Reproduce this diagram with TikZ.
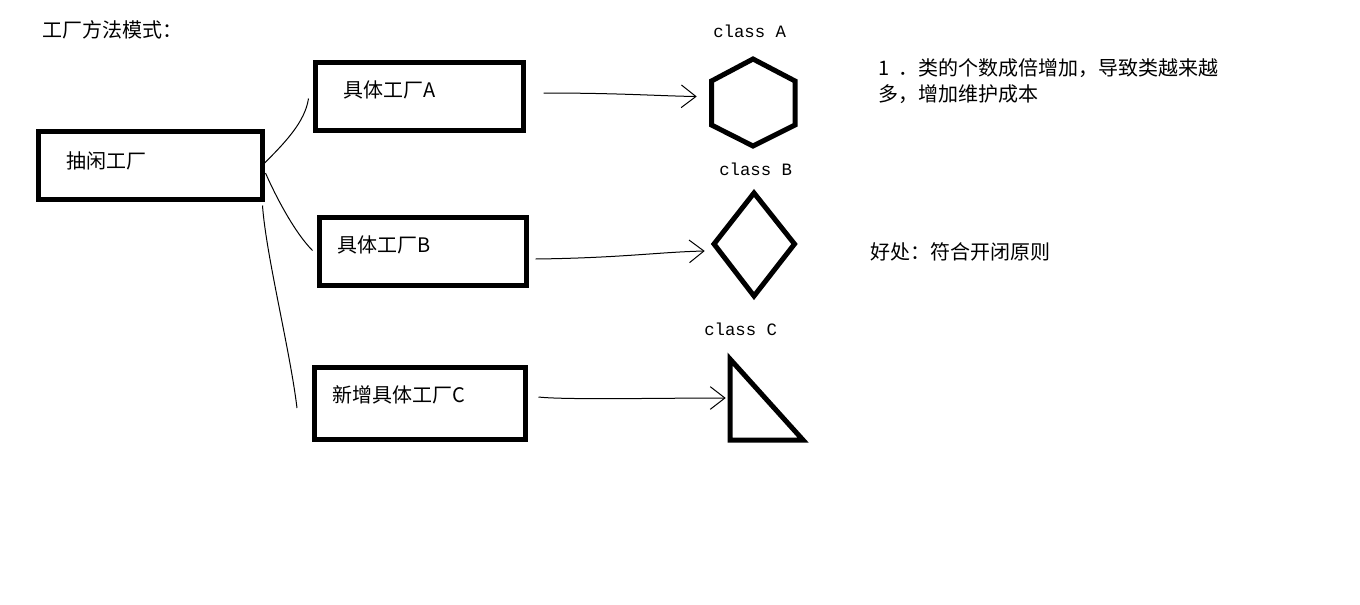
\documentclass[tikz,border=0pt]{standalone}
\usepackage{fontspec}
\newfontfamily\cjkf{Noto Sans CJK SC}
\newfontfamily\monof{Liberation Mono}
\usetikzlibrary{arrows.meta,calc}
\begin{document}
\begin{tikzpicture}[x=0.75pt,y=-0.75pt,
  txt/.style={inner sep=0pt,anchor=base west,font=\cjkf\fontsize{15pt}{18pt}\selectfont},
  cls/.style={inner sep=0pt,anchor=base west,font=\monof\fontsize{13pt}{15pt}\selectfont},
  box/.style={draw=black,line width=3.75pt,rectangle,inner sep=0pt},
  shp/.style={draw=black,line width=3.75pt,line join=miter},
  hole/.style={inner sep=0pt},
  wire/.style={draw=black,line width=0.75pt},
  arr/.style={draw=black,line width=0.75pt,-{Straight Barb[length=11pt,width=17pt]}}
]
\fill[white] (0,0) rectangle (1360,604);
\useasboundingbox (0,0) rectangle (1360,604);

% title
\node[txt] (title) at (42,37) {工厂方法模式：};

% factories
\node[box,minimum width=224*0.75pt,minimum height=68*0.75pt] (absF) at (150,165) {};
\node[txt] (absT) at (66,168.5) {抽闲工厂};

\node[box,minimum width=208*0.75pt,minimum height=68*0.75pt] (boxA) at (419.5,96.5) {};
\node[txt] (boxAT) at (343,97.5) {具体工厂A};

\node[box,minimum width=207*0.75pt,minimum height=68*0.75pt] (boxB) at (423,251.5) {};
\node[txt] (boxBT) at (337,252.5) {具体工厂B};

\node[box,minimum width=211*0.75pt,minimum height=72*0.75pt] (boxC) at (420,403.5) {};
\node[txt] (boxCT) at (332,402.5) {新增具体工厂C};

% class shapes
\node[hole,minimum width=84*0.75pt,minimum height=87*0.75pt] (clsA) at (753,102.5) {};
\draw[shp] (753,59) -- (795,81) -- (795,125) -- (753,146) -- (711.5,125) -- (711.5,81) -- cycle;
\node[cls] (clsAT) at (713,37) {class A};

\node[hole,minimum width=80*0.75pt,minimum height=103*0.75pt] (clsB) at (754,244.5) {};
\draw[shp] (754,193) -- (794.5,244) -- (754,296) -- (714,244) -- cycle;
\node[cls] (clsBT) at (719,175) {class B};

\node[hole,minimum width=73*0.75pt,minimum height=81*0.75pt] (clsC) at (766.5,399.5) {};
\draw[shp] (730,359) -- (730,440) -- (803,440) -- cycle;
\node[cls] (clsCT) at (704,335) {class C};

% hand-drawn links from the abstract factory
\draw[wire] ($(absF.east)+(-4,2)$) .. controls (285,143) and (305,122) .. ($(boxA.west)+(-4.5,2)$);
\draw[wire] ($(absF.east)+(1,8)$) .. controls (276,197) and (295,233) .. ($(boxB.west)+(-4.5,-1)$);
\coordinate (cEnd) at (297,408);
\draw[wire] ($(absF.south east)+(-2,4)$) .. controls (266,255) and (290,350) .. (cEnd);

% arrows to the classes
\draw[arr] ($(boxA.east)+(17.5,-3.5)$) .. controls (620,93) and (660,96) .. ($(clsA.west)+(-14,-6)$);
\draw[arr] ($(boxB.east)+(6.5,7.5)$) .. controls (620,258) and (660,252) .. ($(clsB.west)+(-9,6.5)$);
\draw[arr] ($(boxC.east)+(10.5,-6.5)$) .. controls (565,400) and (660,398) .. ($(clsC.west)+(-4,-1.5)$);

% notes
\node[txt] (note1) at (878,75) {\makebox[15pt][l]{1}．类的个数成倍增加，导致类越来越};
\node[txt] (note2) at (878,101) {多，增加维护成本};
\node[txt] (note3) at (870,259.5) {好处：符合开闭原则};
\end{tikzpicture}
\end{document}
